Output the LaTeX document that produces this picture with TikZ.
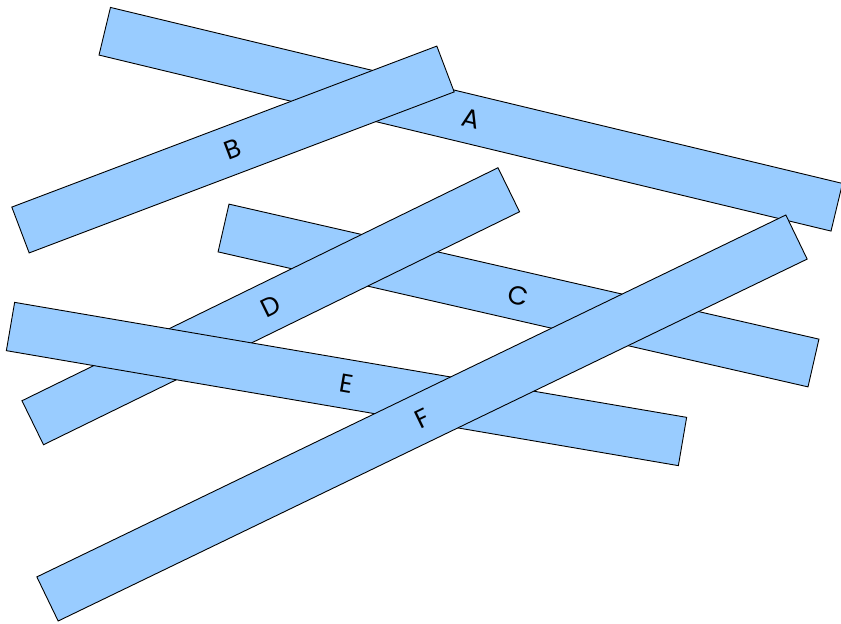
\documentclass[tikz,border=0pt]{standalone}
\usepackage{fontspec}
\setmainfont{Poppins}
\definecolor{stickblue}{HTML}{99CCFF}
\tikzset{
  stick/.style={draw=black, fill=stickblue, line width=0.9pt, inner sep=0pt,
    minimum height=49pt, font=\fontsize{26}{26}\selectfont, text=black}
}
\begin{document}
\begin{tikzpicture}[x=1pt,y=-1pt]
\useasboundingbox (0,0) rectangle (841,624);
\node[stick, rotate=-13.52, minimum width=752.9pt] (a) at (470.75,119.25) {A};
\node[stick, rotate=20.75, minimum width=454.5pt] (b) at (233,149.5) {B};
\node[stick, rotate=-12.89, minimum width=605.2pt] (c) at (518.5,295.5) {C};
\node[stick, rotate=26.08, minimum width=530pt] (d) at (270.75,306.25) {D};
\node[stick, rotate=-9.71, minimum width=681.8pt] (e) at (346.5,384) {E};
\node[stick, rotate=25.79, minimum width=831.9pt] (f) at (422,418) {F};
\end{tikzpicture}
\end{document}
